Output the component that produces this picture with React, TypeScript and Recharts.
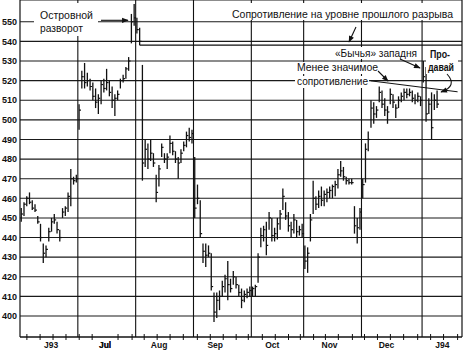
import { ComposedChart, Bar, XAxis, YAxis, CartesianGrid, ReferenceLine } from "recharts";

// daily bars, Jun 1993 - Jan 1994 (session index = position in the arrays)
const highs = [
  455, 458, 461, 463, 459, 457, 451, 447, 437, 436, 445, 450, 452, 448, 444, 455, 456, 463, 475, 471, 472,
  508, 525, 529, 524, 521, 519, 516, 513, 520, 521, 526, 520, 517, 513, 515, 521, 523, 527, 532, 554, 559,
  552, 547, 528, 490, 488, 490, 483, 472, 477, 488, 483, 483, 492, 489, 484, 481, 485, 489, 494, 496, 495,
  481, 467, 459, 437, 437, 436, 432, 412, 412, 413, 418, 421, 428, 419, 423, 420, 416, 414, 413, 414, 415,
  415, 416, 432, 445, 446, 448, 453, 450, 445, 450, 454, 465, 458, 453, 448, 452, 449, 446, 447,
  436, 435, 452, 469, 461, 464, 466, 464, 465, 466, 467, 469, 475, 479, 476, 471, 470, 470, 456, 450, 455,
  470, 488, 494, 510, 509, 507, 517, 515, 511, 507, 516, 513, 508, 512, 514, 516, 516, 516, 515, 513, 514, 512,
  530, 527, 511, 514, 513, 515,
];
const lows = [
  448, 451, 456, 457, 454, 453, 447, 438, 427, 430, 438, 443, 447, 442, 438, 450, 451, 453, 456, 467, 468,
  495, 516, 516, 517, 515, 510, 506, 503, 508, 514, 515, 512, 506, 502, 510, 516, 519, 521, 525, 539, 548,
  544, 538, 469, 476, 475, 479, 476, 458, 466, 481, 478, 475, 483, 482, 478, 470, 478, 484, 486, 489, 488,
  450, 457, 440, 427, 425, 430, 413, 397, 399, 403, 410, 412, 408, 412, 416, 414, 410, 404, 407, 409, 410,
  410, 410, 417, 435, 438, 431, 444, 438, 438, 439, 444, 454, 449, 443, 440, 442, 440, 441, 440,
  424, 422, 438, 452, 454, 455, 456, 456, 458, 460, 460, 461, 465, 471, 469, 467, 467, 467, 442, 437, 444,
  460, 468, 484, 496, 498, 501, 509, 506, 502, 498, 508, 506, 501, 506, 509, 510, 511, 512, 509, 508, 509, 507,
  519, 499, 503, 490, 505, 506,
];
const closes = [
  452, 457, 460, 458, 455, 454, 448, 440, 432, 434, 443, 448, 449, 444, 440, 453, 455, 461, 470, 469, 470,
  505, 522, 519, 520, 517, 512, 509, 511, 518, 516, 519, 514, 510, 511, 513, 520, 521, 526, 530, 550, 552,
  546, 540, 478, 485, 480, 483, 478, 463, 475, 486, 480, 481, 488, 484, 480, 478, 483, 487, 492, 491, 493,
  455, 460, 442, 433, 431, 432, 415, 402, 408, 410, 415, 419, 416, 414, 420, 416, 412, 408, 411, 412, 413,
  414, 415, 430, 441, 444, 436, 450, 441, 442, 447, 452, 461, 451, 446, 444, 449, 443, 444, 442,
  428, 432, 449, 460, 457, 461, 459, 462, 463, 464, 466, 467, 472, 474, 471, 469, 468, 468, 446, 445, 453,
  467, 485, 490, 506, 503, 505, 514, 508, 505, 504, 513, 509, 506, 510, 512, 514, 513, 514, 511, 510, 512, 510,
  522, 503, 508, 496, 510, 508,
];

const priceTicks = [400, 410, 420, 430, 440, 450, 460, 470, 480, 490, 500, 510, 520, 530, 540, 550];
const monthNames = ["J93", "Jul", "Aug", "Sep", "Oct", "Nov", "Dec", "J94"];
const monthMid = [10.8, 30.4, 50.0, 70.4, 91.1, 111.9, 132.6, 152.9];
const monthBounds = [20.5, 41.5, 62.5, 83.5, 102.5, 123.5, 145.5];
const weekTicks = [
  2.0, 6.8, 11.5, 16.2, 21.0, 25.7, 30.4, 35.1, 40.2, 44.6, 49.3, 54.0, 58.8, 63.9, 68.6, 73.3, 78.0,
  82.4, 87.5, 92.2, 97.0, 101.3, 106.1, 110.4, 115.1, 120.2, 124.6, 129.3, 134.0, 138.8, 143.9, 148.6,
  153.3, 158.4,
];

const gapResistance = 538.1;
const weakResistance = [
  { x: 126.8, y: 519.9 },
  { x: 158.4, y: 514.3 },
];

const data = highs.map((h, i) => ({
  day: i,
  range: [lows[i], h],
  high: h,
  low: lows[i],
  close: closes[i],
}));

const axisTicks = [...weekTicks, ...monthMid].sort((a, b) => a - b);

const OhlcBar = (props: any) => {
  const { x, y, width, height, payload } = props;
  if (x == null || y == null) return null;
  const cx = x + width / 2;
  const top = Math.min(y, y + height);
  const h = Math.abs(height);
  const span = payload.high - payload.low;
  const cy = span > 0 ? top + ((payload.high - payload.close) / span) * h : top;
  return (
    <g>
      <line x1={cx} x2={cx} y1={top} y2={top + h} stroke="#111" strokeWidth={1.3} />
      <line x1={cx} x2={cx + 1.9} y1={cy} y2={cy} stroke="#111" strokeWidth={1.2} />
    </g>
  );
};

const DateTick = ({ x, y, payload }: any) => {
  const idx = monthMid.indexOf(payload.value);
  if (idx >= 0) {
    return (
      <text x={x} y={y + 11} textAnchor="middle" fontSize={8.5} fontWeight="bold" fill="#111"
        style={{ fontFamily: "'Liberation Sans', Arial, sans-serif" }}>
        {monthNames[idx]}
      </text>
    );
  }
  return <line x1={x} x2={x} y1={y - 3} y2={y + 3} stroke="#111" strokeWidth={1} />;
};

const font = "'Liberation Sans', Arial, sans-serif";

export default function App() {
  return (
    <div style={{ position: "absolute", left: 0, top: 0, width: 464, height: 353, background: "#fff" }}>
      <ComposedChart width={464} height={353} data={data} margin={{ top: 0, right: 2, bottom: 0, left: 0 }}>
        <CartesianGrid vertical={false} stroke="#1a1a1a" strokeWidth={1.1} />
        <XAxis
          dataKey="day"
          type="number"
          domain={[-0.5, 160]}
          allowDataOverflow
          ticks={axisTicks}
          interval={0}
          tickLine={false}
          tickSize={0}
          tickMargin={0}
          height={16}
          axisLine={{ stroke: "#111", strokeWidth: 1.2 }}
          tick={<DateTick />}
        />
        <YAxis
          domain={[389.3, 561.1]}
          allowDataOverflow
          ticks={priceTicks}
          interval={0}
          width={20}
          tickSize={0}
          tickMargin={3}
          tickLine={false}
          axisLine={{ stroke: "#111", strokeWidth: 1.2 }}
          tick={{ fontSize: 9, fontWeight: "bold", fill: "#111", fontFamily: font }}
        />
        {monthBounds.map((b) => (
          <ReferenceLine key={b} x={b} stroke="#111" strokeWidth={1.1} />
        ))}
        <ReferenceLine x={160} stroke="#111" strokeWidth={1.2} />
        <ReferenceLine
          segment={[{ x: 43, y: gapResistance }, { x: 160, y: gapResistance }]}
          stroke="#111"
          strokeWidth={1.1}
        />
        <ReferenceLine segment={weakResistance} stroke="#111" strokeWidth={1} />
        <Bar dataKey="range" barSize={3} isAnimationActive={false} shape={<OhlcBar />} />
      </ComposedChart>

      <svg width={464} height={353} style={{ position: "absolute", left: 0, top: 0, pointerEvents: "none" }}>
        <defs>
          <marker id="arr" viewBox="0 0 10 10" refX="9" refY="5" markerWidth="7" markerHeight="6" orient="auto">
            <path d="M0,1 L10,5 L0,9 z" fill="#111" />
          </marker>
        </defs>
        <g fontFamily={font} fill="#111">
          <rect x={34} y={3} width={64} height={33} fill="#fff" />
          <text x={40} y={19} fontSize={11.5} textLength={53} lengthAdjust="spacingAndGlyphs">Островной</text>
          <text x={40} y={31.5} fontSize={11.5} textLength={43} lengthAdjust="spacingAndGlyphs">разворот</text>

          <rect x={229} y={3} width={228} height={17} fill="#fff" />
          <text x={232} y={17.5} fontSize={10.5} textLength={221} lengthAdjust="spacingAndGlyphs">
            Сопротивление на уровне прошлого разрыва
          </text>

          <rect x={333} y={47} width={87} height={12} fill="#fff" />
          <text x={335} y={56.5} fontSize={10.5} textLength={82} lengthAdjust="spacingAndGlyphs">«Бычья» западня</text>

          <rect x={295} y={62} width={85} height={12} fill="#fff" />
          <text x={297} y={71} fontSize={10.5} textLength={81} lengthAdjust="spacingAndGlyphs">Менее значимое</text>
          <rect x={295} y={76} width={74} height={12} fill="#fff" />
          <text x={297} y={85} fontSize={10.5} textLength={71} lengthAdjust="spacingAndGlyphs">сопротивление</text>

          <rect x={426} y={47} width={32} height={27} fill="#fff" />
          <text x={430} y={58} fontSize={10.5} fontWeight="bold" textLength={20} lengthAdjust="spacingAndGlyphs">Про-</text>
          <text x={428} y={71} fontSize={10.5} fontWeight="bold" textLength={26} lengthAdjust="spacingAndGlyphs">давай</text>
        </g>
        <g stroke="#111" strokeWidth={1.1} fill="none">
          <line x1={101} y1={20.3} x2={128} y2={20.3} markerEnd="url(#arr)" />
          <line x1={356} y1={27} x2={349} y2={42} markerEnd="url(#arr)" />
          <line x1={400} y1={59} x2={420} y2={68} markerEnd="url(#arr)" />
          <line x1={378} y1={71} x2={388} y2={81} markerEnd="url(#arr)" />
          <path d="M447,74 Q458,86 441,92" markerEnd="url(#arr)" />
        </g>
      </svg>
    </div>
  );
}
